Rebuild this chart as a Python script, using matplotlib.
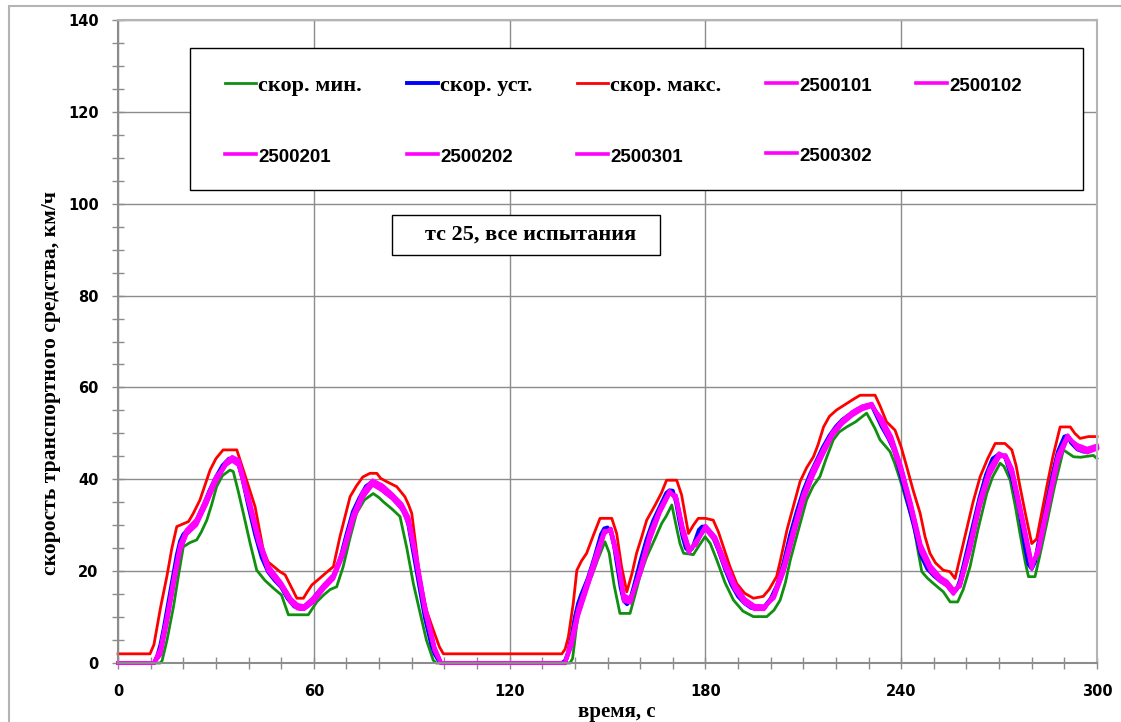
import matplotlib
matplotlib.use("Agg")
import matplotlib.pyplot as plt
from matplotlib.patches import Rectangle
from matplotlib.ticker import MultipleLocator

# set speed (blue)
t_set = [0, 10, 11, 12, 13, 14, 15, 16, 17, 18,
         19, 20, 22, 24, 26, 28, 30, 32, 34, 36,
         37, 38, 40, 42, 44, 46, 48, 50, 52, 54,
         56, 58, 60, 62, 64, 66, 68, 70, 72, 74,
         76, 78, 79, 80, 82, 84, 86, 88, 89, 90,
         92, 94, 96, 97, 98, 99, 136, 137, 138, 139,
         140, 141, 142, 144, 146, 148, 149, 150, 151, 152,
         153, 154, 155, 156, 157, 158, 160, 162, 164, 166,
         168, 169, 170, 171, 172, 173, 174, 175, 176, 177,
         178, 179, 180, 181, 182, 184, 186, 188, 190, 192,
         194, 196, 198, 200, 202, 204, 206, 208, 210, 212,
         214, 216, 218, 220, 222, 224, 226, 228, 230, 231,
         232, 234, 236, 238, 240, 242, 244, 246, 248, 250,
         252, 254, 255, 256, 257, 258, 260, 262, 264, 266,
         268, 270, 271, 272, 274, 276, 278, 279, 280, 281,
         282, 284, 286, 288, 290, 291, 292, 294, 296, 298, 300]
v_set = [0, 0, 0, 1.5, 4, 7.5, 11.5, 15.5, 19.5, 23.5,
         26.5, 28, 29.5, 31, 34, 37.5, 40.5, 43, 44.5, 44.3,
         43, 40.5, 34, 28, 23, 19.8, 18, 16.5, 14, 12.3,
         11.8, 12.3, 14.3, 16, 17.5, 19, 22.5, 28, 33, 36,
         38.5, 39.5, 39, 38.3, 37, 36, 34.5, 32.5, 30, 26,
         18, 10, 4, 2, 0.8, 0, 0, 0.5, 2.5, 6,
         10, 13, 15, 18.5, 23, 28, 29.3, 29.5, 28.5, 25.5,
         21, 16.5, 13.5, 12.8, 14, 16.5, 22, 27, 31, 34,
         37, 37.6, 37.5, 35, 31, 27.5, 25, 24.3, 25, 27,
         29, 29.7, 29.7, 29, 28, 24.5, 20.5, 17, 14.5, 13,
         12, 11.8, 12.2, 14, 17, 22, 28, 33, 37.5, 41,
         44, 47, 49.5, 51.5, 53, 54, 55, 55.8, 56.2, 56,
         54.5, 51.5, 49, 46, 40.5, 35, 29.5, 23.5, 20.5, 19,
         17.8, 17, 16, 15.3, 16, 18, 24, 30, 36, 41,
         44.5, 45.5, 45.3, 44.5, 40, 34, 25, 21.5, 20.5, 22,
         26, 33, 40, 46, 49.3, 49.5, 48, 46.5, 46, 46.5, 47]

# upper limit (red)
t_max = [0, 9.8, 11, 13, 15, 16.5, 18, 21.6, 23, 25.1,
         28.2, 30, 32.2, 36.4, 37.5, 39.4, 42, 44.5, 46, 49.6,
         51.2, 54.8, 56.8, 58, 59.4, 61.9, 64, 66, 68, 71.1,
         73, 75, 77.2, 79.3, 80.5, 82.3, 85.4, 87.9, 89, 90,
         92.6, 94.5, 96.6, 98.5, 99.7, 136, 137, 138, 139.5, 140.6,
         142, 143.6, 145.5, 147.7, 151.3, 152.8, 154.3, 155.9, 157.5, 158.9,
         160.5, 162, 164.6, 166.5, 168.1, 171.2, 172.7, 174.8, 176.3, 177.8,
         180, 182.4, 184, 185.5, 187.5, 189.6, 192, 194.7, 197.7, 199.5,
         201.8, 203, 205, 206.9, 209, 211, 213.1, 214.5, 216.2, 218,
         220.2, 223.3, 225.5, 227.4, 232, 233.5, 235.5, 238.1, 240, 241.7,
         243.7, 245.8, 247.3, 248.8, 250.5, 252.9, 254.9, 256.5, 258.2, 260,
         262, 264.2, 266.5, 268.8, 271.8, 273.9, 275.2, 276.4, 278.2, 280,
         281.5, 283, 284.6, 286.5, 288.7, 291.8, 293.2, 294.8, 297.4, 300]
v_max = [2, 2, 4, 12, 19, 25, 29.7, 30.8, 32.5, 35.5,
         42, 44.5, 46.4, 46.4, 44, 39.8, 34, 24.6, 22, 19.9,
         19.2, 14.1, 14.1, 15.5, 17, 18.5, 19.8, 21, 27.5, 36.2,
         38.5, 40.5, 41.3, 41.3, 40.2, 39.5, 38.4, 36.2, 34.5, 32.6,
         18, 11.5, 7.2, 3.5, 2, 2, 3, 5.7, 13, 20.2,
         22.2, 23.9, 27.5, 31.5, 31.5, 28.2, 21, 15.5, 19.5, 23.9,
         27.5, 31.1, 34.4, 37, 39.8, 39.8, 36.6, 28.2, 30, 31.5,
         31.5, 31.1, 28.5, 25.3, 21, 17.3, 15.2, 14.1, 14.5, 16,
         18.8, 22.4, 29, 34, 39.5, 42.5, 44.9, 47.5, 51.4, 53.7,
         55.1, 56.5, 57.5, 58.3, 58.3, 56, 52.5, 50.7, 47, 42.7,
         37.5, 32.6, 27.5, 23.9, 21.8, 20.2, 19.9, 18.4, 23.5, 29,
         35, 40.6, 44.5, 47.8, 47.8, 46.4, 43, 38.4, 32, 26,
         27, 32.5, 38.4, 45, 51.4, 51.4, 50, 48.9, 49.3, 49.3]

# lower limit (green)
t_min = [0, 12.9, 13.5, 15, 17, 18.5, 20, 22, 24.1, 25.5,
         27.2, 28.7, 30.2, 32, 34.3, 35.3, 36.8, 38.4, 40.5, 42.5,
         45, 47.6, 50.1, 52.2, 58.3, 60.9, 63, 65, 67, 69,
         71, 73.1, 75.5, 78.2, 80, 81.3, 84, 86.4, 88.5, 90.5,
         92.6, 94.5, 96.6, 97.5, 138.5, 139.3, 140.5, 141.6, 143.5, 145.1,
         147, 149.2, 150.5, 152, 153.8, 156.9, 158.5, 160, 162, 164.5,
         166.6, 168, 169.7, 171, 172.2, 173.3, 176.3, 178, 179.9, 181.5,
         183.5, 186, 188.6, 191.5, 194.7, 198.8, 201, 202.9, 204.5, 206,
         208.5, 211, 213, 215.1, 217, 219.2, 221, 223.3, 226, 229.4,
         230.5, 232, 233.5, 236.6, 238, 239.7, 241.7, 243.7, 245, 246.3,
         248, 249.9, 252.9, 255, 257.3, 259, 261.1, 263.5, 266.2, 268,
         270.3, 271.5, 273.4, 275, 276.4, 278, 279, 281, 282.5, 284.6,
         287, 289.7, 292.8, 295, 298.9, 300]
v_min = [0, 0, 0.5, 5, 12.3, 19, 25.3, 26.2, 26.8, 28.5,
         31.1, 34.5, 38.4, 40.8, 42, 41.7, 37.5, 32.6, 26, 20.2,
         18, 16.3, 14.8, 10.5, 10.5, 13.3, 14.8, 16, 16.6, 21,
         27, 32.6, 35.5, 36.9, 36, 35.1, 33.5, 31.9, 25, 17.3,
         10.8, 5, 0.6, 0, 0, 1, 8, 14.4, 17.5, 18.8,
         22.5, 26.4, 24, 17, 10.8, 10.8, 15, 19, 23.1, 27,
         30.4, 32, 34.4, 30, 26, 23.9, 23.6, 25.5, 27.5, 26,
         22.4, 17.5, 13.7, 11.3, 10.1, 10.1, 11.5, 13.7, 17.5, 22.4,
         29, 35.5, 38.5, 40.6, 44.5, 48.6, 50.3, 51.4, 52.5, 54.4,
         53, 51, 48.6, 46, 43.5, 39.8, 35, 30.4, 25, 19.9,
         18.5, 17.3, 15.5, 13.3, 13.3, 16, 21, 29, 36.9, 40.5,
         43.5, 42.8, 39.8, 34, 28.2, 22, 18.8, 18.8, 23.5, 30.4,
         38.5, 46.4, 44.9, 44.8, 45.2, 44.5]

# test runs (magenta)
t_run = [0, 11, 13, 15, 17, 19, 21, 24, 27, 30, 33, 35, 37, 40, 43, 46,
         50, 53, 55, 57, 60, 63, 66, 69, 72, 75, 78, 81, 84, 87, 89, 91, 94, 97, 99,
         137, 139, 141, 144, 147, 149, 151, 153, 155, 157, 160, 163, 166, 169, 171, 173, 175, 177, 180,
         183, 186, 189, 192, 195, 198, 201, 204, 207, 210, 213, 216, 219, 222, 225, 228, 231, 234, 237, 240,
         243, 246, 249, 252, 254, 256, 258, 261, 264, 267, 270, 272, 274, 277, 280, 282, 285, 288, 291, 294, 297, 300]

run_2500101 = [0, 0, 2.5, 9.5, 17.5, 25, 28.5, 30.5, 35, 40, 43.5, 44.5, 43.5, 35.5, 27, 20.5,
               17, 13.5, 12.2, 12, 13.8, 16.5, 18.8, 24, 31.5, 36.5, 39.3, 38, 36.2, 34, 31, 24, 12, 3, 0,
               0, 4.5, 11, 17.5, 24, 28.5, 29, 23, 14, 13.5, 20, 27.5, 33, 37.2, 36, 29, 24.5, 26, 29.5,
               27, 21.5, 16.5, 13.5, 12, 12, 14.5, 20.5, 28.5, 36, 41.5, 46, 50, 52.5, 54.3, 55.5, 56.2, 52.5, 48.5, 42,
               34, 25, 20.5, 18.2, 17.3, 15.5, 17, 25, 34.5, 41.5, 45.3, 45, 41.5, 31.5, 21, 24.5, 34.5, 44.5, 49.3, 47, 46.2, 47]
run_2500102 = [0, 0, 2, 9, 17, 24.5, 28, 30, 34.5, 39.5, 43, 44.8, 44, 36, 27.5, 21,
               17.3, 13.8, 12.5, 12.3, 14.2, 16.8, 19, 24.5, 32, 37, 39.6, 38.5, 36.5, 34.3, 31.5, 24.5, 12.5, 3.3, 0,
               0, 4, 10.5, 17, 23.5, 28.3, 29.2, 23.5, 14.5, 13.8, 19.5, 27, 32.8, 37, 36.3, 29.5, 24.8, 25.8, 29.8,
               27.3, 22, 17, 13.8, 12.3, 12.2, 14.3, 20, 28, 35.5, 41, 45.5, 49.8, 52.3, 54, 55.3, 56, 53, 49, 42.5,
               34.5, 25.5, 21, 18.5, 17.6, 15.8, 16.8, 24.5, 34, 41, 45, 45.2, 42, 32, 21.5, 24, 34, 44, 49.2, 47.3, 46.5, 47.2]
run_2500201 = [0, 0, 3, 10, 18, 25.5, 28.8, 31, 35.5, 40.3, 43.3, 44.2, 43.2, 35, 26.5, 20.2,
               16.8, 13.3, 12, 11.8, 13.5, 16.3, 18.5, 23.8, 31.2, 36.2, 39, 37.7, 36, 33.7, 30.5, 23.5, 11.5, 2.8, 0,
               0, 5, 11.5, 18, 24.5, 28.7, 28.8, 22.5, 14, 13.2, 20.3, 28, 33.3, 37.4, 35.7, 28.5, 24.2, 26.3, 29.3,
               26.7, 21, 16.2, 13.2, 11.8, 11.8, 14.8, 21, 29, 36.5, 42, 46.3, 50.2, 52.7, 54.5, 55.7, 56.4, 52.2, 48, 41.5,
               33.5, 24.5, 20.2, 18, 17, 15.2, 17.3, 25.5, 35, 42, 45.5, 44.8, 41, 31, 20.7, 25, 35, 45, 49.5, 46.8, 46, 46.8]
run_2500202 = [0, 0, 2.2, 9.2, 17.2, 24.8, 28.3, 30.3, 34.8, 39.8, 43.6, 44.6, 43.7, 35.8, 27.3, 20.8,
               17.2, 13.6, 12.3, 12.1, 14, 16.6, 18.9, 24.2, 31.8, 36.8, 39.5, 38.2, 36.4, 34.2, 31.3, 24.3, 12.3, 3.2, 0,
               0, 4.3, 10.8, 17.3, 23.8, 28.4, 29.1, 23.3, 14.3, 13.6, 19.8, 27.3, 32.9, 37.1, 36.2, 29.3, 24.6, 25.9, 29.6,
               27.2, 21.8, 16.8, 13.6, 12.1, 12.1, 14.4, 20.3, 28.3, 35.8, 41.3, 45.8, 49.9, 52.4, 54.2, 55.4, 56.1, 52.8, 48.8, 42.3,
               34.3, 25.3, 20.8, 18.3, 17.4, 15.6, 16.9, 24.8, 34.3, 41.3, 45.2, 45.1, 41.8, 31.8, 21.3, 24.3, 34.3, 44.3, 49.2, 47.1, 46.3, 47.1]
run_2500301 = [0, 0, 2.8, 9.8, 17.8, 25.3, 28.6, 30.7, 35.3, 40.2, 43.4, 44.3, 43.3, 35.3, 26.8, 20.4,
               16.9, 13.4, 12.1, 11.9, 13.7, 16.4, 18.7, 23.9, 31.4, 36.4, 39.2, 37.9, 36.1, 33.9, 30.8, 23.8, 11.8, 2.9, 0,
               0, 4.7, 11.2, 17.7, 24.2, 28.6, 28.9, 22.8, 13.8, 13.4, 20.2, 27.7, 33.1, 37.3, 35.9, 28.8, 24.4, 26.1, 29.4,
               26.9, 21.3, 16.4, 13.4, 11.9, 11.9, 14.6, 20.7, 28.7, 36.2, 41.7, 46.1, 50.1, 52.6, 54.4, 55.6, 56.3, 52.3, 48.3, 41.8,
               33.8, 24.8, 20.4, 18.1, 17.2, 15.4, 17.1, 25.2, 34.7, 41.7, 45.4, 44.9, 41.3, 31.3, 20.9, 24.7, 34.7, 44.7, 49.4, 46.9, 46.1, 46.9]
run_2500302 = [0, 0, 1.8, 8.8, 16.8, 24.3, 28.2, 30.2, 34.6, 39.6, 43.8, 44.9, 44.2, 36.3, 27.8, 21.2,
               17.5, 14, 12.7, 12.4, 14.3, 17, 19.2, 24.8, 32.3, 37.3, 39.8, 38.7, 36.8, 34.6, 31.8, 24.8, 12.8, 3.5, 0,
               0, 3.8, 10.2, 16.8, 23.2, 28.1, 29.3, 23.8, 14.8, 14, 19.2, 26.8, 32.6, 36.9, 36.5, 29.8, 25, 25.6, 29.9,
               27.5, 22.2, 17.2, 14, 12.5, 12.4, 14.1, 19.8, 27.7, 35.3, 40.8, 45.3, 49.6, 52.1, 53.9, 55.2, 55.9, 53.3, 49.3, 42.8,
               34.8, 25.8, 21.2, 18.7, 17.8, 16, 16.6, 24.2, 33.7, 40.8, 44.8, 45.3, 42.3, 32.3, 21.8, 23.8, 33.8, 43.8, 49, 47.5, 46.7, 47.4]
run_extra = [0, 0, 3.2, 10.3, 18.3, 25.8, 29, 31.2, 35.8, 40.6, 43.1, 44, 43, 34.8, 26.3, 20,
             16.6, 13.1, 11.8, 11.7, 13.3, 16.1, 18.3, 23.5, 31, 36, 38.8, 37.5, 35.8, 33.5, 30.3, 23.3, 11.3, 2.6, 0,
             0, 5.2, 11.8, 18.3, 24.8, 28.8, 28.7, 22.3, 13.5, 13.1, 20.5, 28.3, 33.5, 37.5, 35.5, 28.3, 24, 26.5, 29.2,
             26.5, 20.8, 16, 13, 11.7, 11.7, 15, 21.3, 29.3, 36.8, 42.3, 46.5, 50.4, 52.9, 54.7, 55.9, 56.5, 52, 47.8, 41.3,
             33.3, 24.3, 20, 17.8, 16.8, 15, 17.5, 25.8, 35.3, 42.3, 45.7, 44.6, 40.8, 30.8, 20.5, 25.3, 35.3, 45.3, 49.6, 46.6, 45.8, 46.6]

runs = [("2500101", run_2500101), ("2500102", run_2500102), ("2500201", run_2500201),
        ("2500202", run_2500202), ("2500301", run_2500301), ("2500302", run_2500302)]

fig = plt.figure(figsize=(11.21, 7.22), dpi=100)
ax = fig.add_axes([0.1053, 0.0817, 0.8733, 0.8906])

fig.patches.append(Rectangle((0.008, -0.1), 1.2, 1.0917, transform=fig.transFigure,
                             fill=False, edgecolor="#b4b4b4", linewidth=1.5))

l_min, = ax.plot(t_min, v_min, color="#109010", lw=2.0, label="скор. мин.", clip_on=False)
l_set, = ax.plot(t_set, v_set, color="#0000ff", lw=2.8, label="скор. уст.", clip_on=False)
l_max, = ax.plot(t_max, v_max, color="#ff0000", lw=2.0, label="скор. макс.", clip_on=False)
run_lines = {}
for name, vals in runs:
    run_lines[name], = ax.plot(t_run, vals, color="#ff00ff", lw=2.6, label=name,
                               clip_on=False, solid_joinstyle="round")
ax.plot(t_run, run_extra, color="#ff00ff", lw=2.6, clip_on=False, solid_joinstyle="round")

ax.set_xlim(0, 300)
ax.set_ylim(0, 140)
ax.xaxis.set_major_locator(MultipleLocator(60))
ax.xaxis.set_minor_locator(MultipleLocator(10))
ax.yaxis.set_major_locator(MultipleLocator(20))
ax.yaxis.set_minor_locator(MultipleLocator(5))
ax.grid(True, which="major", color="#8c8c8c", lw=1.0)
ax.set_axisbelow(True)

ax.tick_params(which="both", direction="inout", length=8, width=1.0, color="#8c8c8c")
ax.tick_params(axis="x", pad=11)
ax.tick_params(axis="y", pad=10)
for lab in ax.get_xticklabels() + ax.get_yticklabels():
    lab.set_fontfamily("DejaVu Sans")
    lab.set_fontweight("bold")
    lab.set_fontsize(10.5)

for s in ["left", "bottom"]:
    ax.spines[s].set_color("#8c8c8c")
    ax.spines[s].set_linewidth(1.5)
for s in ["top", "right"]:
    ax.spines[s].set_color("#b4b4b4")
    ax.spines[s].set_linewidth(1.5)

ax.set_xlabel("время, с", fontfamily="Liberation Serif", fontweight="bold", fontsize=15)
ax.set_ylabel("скорость транспортного средства, км/ч", fontfamily="Liberation Serif",
              fontweight="bold", fontsize=15.5)
ax.xaxis.set_label_coords(0.5097, -0.061)
ax.yaxis.set_label_coords(-0.058, 0.435)

# legend box, entries in Excel row-wise order
ax.add_patch(Rectangle((0.0735, 0.7356), 0.9122, 0.2209, transform=ax.transAxes,
                       facecolor="white", edgecolor="black", lw=1.0, zorder=4))
order = [l_min, run_lines["2500201"], l_set, run_lines["2500202"], l_max,
         run_lines["2500301"], run_lines["2500101"], run_lines["2500302"], run_lines["2500102"]]
leg = ax.legend(handles=order, labels=[h.get_label() for h in order], ncol=5,
                loc="upper left", bbox_to_anchor=(0.1093, 0.914),
                frameon=False, borderpad=0, labelspacing=2.28, handlelength=1.4,
                handletextpad=0.1, columnspacing=2.0, borderaxespad=0,
                prop={"family": "Liberation Serif", "weight": "bold", "size": 16})
leg.set_zorder(5)
for txt in leg.get_texts():
    if txt.get_text()[0].isdigit():
        txt.set_fontfamily("Liberation Sans")
        txt.set_fontsize(13.5)

ax.add_patch(Rectangle((0.2799, 0.6345), 0.2737, 0.0622, transform=ax.transAxes,
                       facecolor="white", edgecolor="black", lw=1.0, zorder=5))
ax.text(0.421, 0.6656, "тс 25, все испытания", transform=ax.transAxes, ha="center",
        va="center", fontfamily="Liberation Serif", fontweight="bold", fontsize=16, zorder=6)

fig.savefig("out.png", dpi=100)
